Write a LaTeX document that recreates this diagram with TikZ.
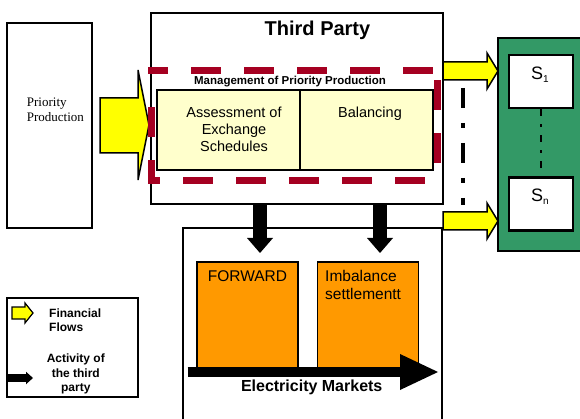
\documentclass[tikz,border=0pt]{standalone}
\usepackage{fontspec}
\setmainfont{Liberation Sans}
\newfontfamily\timesfont{Liberation Serif}
\usetikzlibrary{arrows.meta}
\definecolor{flowyellow}{HTML}{FFFF00}
\definecolor{paleyellow}{HTML}{FFFFCC}
\definecolor{marketorange}{HTML}{FF9900}
\definecolor{playergreen}{HTML}{339966}
\definecolor{mgmtred}{HTML}{A50021}
\newcommand{\lowidx}[1]{\raisebox{-3pt}{\fontsize{10}{10}\selectfont #1}}

\begin{document}
\begin{tikzpicture}[x=1pt, y=-1pt,
    frame/.style={draw, line width=2pt, inner sep=0pt},
    task/.style={draw, line width=1.2pt, fill=paleyellow, inner sep=0pt, minimum height=80pt},
    market/.style={draw, line width=1.2pt, fill=marketorange, inner sep=0pt, minimum width=101pt, minimum height=108pt},
    party/.style={draw, line width=2.2pt, fill=white, inner sep=0pt, minimum width=64pt, minimum height=53pt},
    flow/.style={draw, line width=1.5pt, fill=flowyellow, line join=miter},
    act/.style={line width=14pt, -{Triangle[length=15pt, width=26pt, line width=0pt]}},
    mgmtedge/.style={draw=mgmtred, line width=7pt, line cap=rect},
    txt/.style={inner sep=0pt, font=\fontsize{14.5}{16.7}\selectfont},
    bold/.style={inner sep=0pt, font=\bfseries\fontsize{12}{14.3}\selectfont},
    chain/.style={line width=2.5pt, dash pattern=on 7pt off 8pt on 3pt off 8pt},
    sepline/.style={line width=4pt, dash pattern=on 20pt off 15pt on 5pt off 15pt}
]
    \clip (0,0) rectangle (580,419);

    % producer
    \node[frame, minimum width=85pt, minimum height=205pt] (prio) at (49.5,125.4) {};
    \node[inner sep=0pt, anchor=north west, align=left, font=\timesfont\fontsize{13}{15}\selectfont] (priotxt) at (26.7,97.2) {Priority\\Production};

    % third party
    \node[frame, fill=white, minimum width=291.7pt, minimum height=190.4pt] (tp) at (297.2,108.5) {};
    \node[anchor=base, inner sep=0pt, font=\bfseries\fontsize{20}{24}\selectfont] (tptitle) at (317.5,36) {Third Party};

    \node[task, minimum width=143pt] (assess) at (228.5,130) {};
    \node[task, minimum width=133pt] (bal) at (366.5,130) {};
    \node[txt, align=center] (assesstxt) at (234,129.5) {Assessment of\\Exchange\\Schedules};
    \node[txt, anchor=base] (baltxt) at (370,117.5) {Balancing};

    \filldraw[flow] (100,98) -- (138,98) -- (138,70) -- (149,125) -- (138,180) -- (138,153) -- (100,153) -- cycle;

    % dashed management frame, edge by edge
    \node[inner sep=0pt, outer sep=0pt, minimum width=286.5pt, minimum height=110pt] (mgmt) at (294.3,125.5) {};
    \draw[mgmtedge, dash pattern=on 23pt off 30pt, dash phase=9.5pt] (mgmt.north west) -- (mgmt.north east);
    \draw[mgmtedge, dash pattern=on 23pt off 30pt, dash phase=40pt] (mgmt.north east) -- (mgmt.south east);
    \draw[mgmtedge, dash pattern=on 23pt off 30pt, dash phase=17.5pt] (mgmt.south west) -- (mgmt.south east);
    \draw[mgmtedge, dash pattern=on 17pt off 30pt on 23pt off 60pt] (mgmt.south west) -- (mgmt.north west);
    \node[bold, anchor=base, font=\bfseries\fontsize{11.5}{14}\selectfont] (mgmttxt) at (290,84.3) {Management of Priority Production};

    % market players
    \node[draw, line width=2.5pt, fill=playergreen, inner sep=0pt, minimum width=92pt, minimum height=213pt] (players) at (544,144.5) {};
    \node[party] (s1) at (541,81.5) {};
    \node[party] (sn) at (541,204) {};
    \draw[chain] (s1) -- (sn);
    \node[anchor=base, inner sep=0pt, font=\fontsize{18}{20}\selectfont] (s1txt) at (540,80) {S\lowidx{1}};
    \node[anchor=base, inner sep=0pt, font=\fontsize{18}{20}\selectfont] (sntxt) at (540,202) {S\lowidx{n}};

    \filldraw[flow] (443,62) -- (487,62) -- (487,53) -- (498,71) -- (487,89) -- (487,80) -- (443,80) -- cycle;
    \filldraw[flow] (443,212) -- (487,212) -- (487,203) -- (498,221) -- (487,239) -- (487,230) -- (443,230) -- cycle;
    \coordinate (gaptop) at (463,88);
    \coordinate (gapbot) at (463,205);
    \draw[sepline] (gaptop) -- (gapbot);

    % electricity markets
    \node[frame, fill=white, minimum width=259pt, minimum height=220pt] (elec) at (312,338) {};
    \node[market] (fwd) at (247.5,316) {};
    \node[market] (imb) at (368,316) {};
    \node[txt, anchor=base, font=\fontsize{15.5}{18}\selectfont] (fwdtxt) at (247.5,281) {FORWARD};
    \node[txt, anchor=north west, align=left, font=\fontsize{15.5}{18}\selectfont] (imbtxt) at (325,269.7) {Imbalance\\settlementt};

    \coordinate (fwdin) at (260,253);
    \coordinate (imbin) at (380,253);
    \draw[act] (tp.south -| fwdin) -- (fwdin);
    \draw[act] (tp.south -| imbin) -- (imbin);

    \coordinate (mktstart) at (187.5,372);
    \coordinate (mktend) at (438,372);
    \draw[line width=10pt, -{Triangle[length=38pt, width=36pt, line width=0pt]}] (mktstart) -- (mktend);
    \node[anchor=base, inner sep=0pt, font=\bfseries\fontsize{16}{18}\selectfont] (electxt) at (311.7,391.3) {Electricity Markets};

    % legend
    \node[frame, minimum width=131pt, minimum height=99pt] (legend) at (72.5,347.5) {};
    \filldraw[flow, line width=1.2pt] (12,307) -- (25,307) -- (25,303) -- (33,313) -- (25,323) -- (25,319) -- (12,319) -- cycle;
    \node[bold, anchor=north west, align=left] (flowtxt) at (49,308.5) {Financial\\Flows};
    \coordinate (actend) at (33,378);
    \draw[line width=8pt, -{Triangle[length=7pt, width=12.5pt, line width=0pt]}] (legend.west |- actend) -- (actend);
    \node[bold, anchor=north, align=center] (acttxt) at (75.8,354) {Activity of\\the third\\party};
\end{tikzpicture}
\end{document}
